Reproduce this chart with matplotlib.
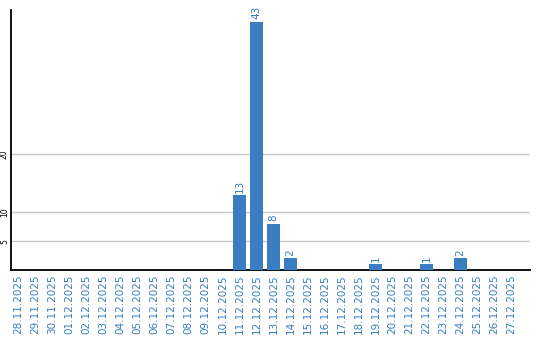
import matplotlib
matplotlib.use("Agg")
import matplotlib.pyplot as plt

dates = ["28.11.2025", "29.11.2025", "30.11.2025", "01.12.2025", "02.12.2025",
         "03.12.2025", "04.12.2025", "05.12.2025", "06.12.2025", "07.12.2025",
         "08.12.2025", "09.12.2025", "10.12.2025", "11.12.2025", "12.12.2025",
         "13.12.2025", "14.12.2025", "15.12.2025", "16.12.2025", "17.12.2025",
         "18.12.2025", "19.12.2025", "20.12.2025", "21.12.2025", "22.12.2025",
         "23.12.2025", "24.12.2025", "25.12.2025", "26.12.2025", "27.12.2025"]
values = [0, 0, 0, 0, 0, 0, 0, 0, 0, 0, 0, 0, 0, 13, 43, 8, 2, 0, 0, 0,
          0, 1, 0, 0, 1, 0, 2, 0, 0, 0]
yticks = [5, 10, 20]

blue = "#3a7dc3"
fig = plt.figure(figsize=(5.4, 3.4), dpi=100)
ax = fig.add_axes([11/540, 70/340, 519/540, 260/340])
x = list(range(len(dates)))
ax.bar(x, values, width=0.8, color=blue, zorder=3)
for xi, v in zip(x, values):
    if v > 0:
        ax.text(xi, v + 0.4, str(v), rotation=90, ha="center", va="bottom",
                color=blue, fontsize=7.5)
ax.set_xlim(-0.45, 30.1)
ax.set_ylim(0, 45)
ax.set_yticks(yticks)
ax.set_yticklabels([str(t) for t in yticks], rotation=90, va="center", fontsize=5.5)
ax.set_xticks(x)
ax.set_xticklabels(dates, rotation=90, color=blue, fontsize=7.5)
ax.tick_params(axis="x", length=0, pad=3)
ax.tick_params(axis="y", length=0, pad=1.5)
ax.grid(axis="y", color="#c8c8c8", linewidth=1, zorder=0)
for s in ["top", "right"]:
    ax.spines[s].set_visible(False)
ax.spines["left"].set_linewidth(1.3)
ax.spines["bottom"].set_linewidth(1.3)
fig.savefig("out.png", dpi=100)
